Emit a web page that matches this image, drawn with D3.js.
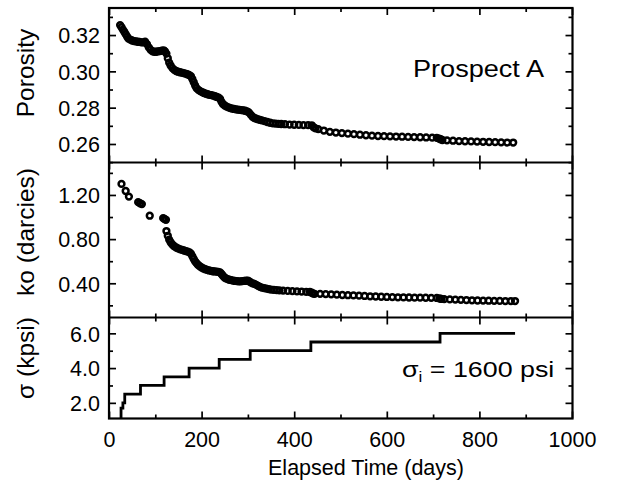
<!DOCTYPE html>
<html><head><meta charset="utf-8">
<script src="https://cdn.jsdelivr.net/npm/d3@7"></script>
<style>
body{margin:0;background:#fff}
svg text{font-family:"Liberation Sans",Arial,Helvetica,sans-serif;fill:#000}
</style>
</head><body>
<svg id="chart" width="617" height="501"></svg>
<script>
// ---------------- DATA ----------------
const porosityDays = [24,27,30,33,36,39,42,46,50,54,58,62,66,70,74,78,82,86,90,94,98,102,106,110,114,118,121,124,127,130,133,137,141,145,149,153,157,161,165,169,173,177,180,183,186,189,193,197,201,205,209,213,217,221,225,229,233,237,240,243,246,250,254,258,262,266,270,274,278,282,286,290,294,298,302,306,310,314,318,322,326,330,336,342,348,354,360,366,372,380,390,400,410,420,430,438,442,446,452,464,477,490,503,516,529,542,555,568,581,594,607,620,633,646,659,672,685,698,708,713,716,720,730,743,756,769,782,795,808,821,834,847,860,873];
const porosityValues = [.3255,.3243,.3230,.3218,.3205,.3192,.3180,.3175,.3170,.3167,.3165,.3163,.3162,.3160,.3160,.3163,.3150,.3132,.3118,.3110,.3108,.3108,.3110,.3112,.3114,.3116,.3110,.3098,.3072,.3048,.3032,.3018,.3008,.3002,.2998,.2995,.2993,.2990,.2988,.2984,.2980,.2973,.2958,.2940,.2922,.2908,.2898,.2891,.2886,.2881,.2877,.2874,.2871,.2869,.2866,.2863,.2859,.2855,.2848,.2832,.2820,.2812,.2806,.2802,.2798,.2795,.2793,.2791,.2789,.2788,.2787,.2785,.2783,.2780,.2774,.2762,.2750,.2743,.2739,.2736,.2733,.2730,.2726,.2721,.2717,.2714,.2712,.2711,.2710,.2709,.2707,.2706,.2705,.2704,.2704,.2703,.2692,.2686,.2682,.2674,.2667,.2663,.2660,.2657,.2654,.2651,.2648,.2646,.2644,.2643,.2642,.2641,.2640,.2639,.2638,.2637,.2636,.2635,.2634,.2630,.2626,.2622,.2620,.2618,.2616,.2615,.2614,.2613,.2612,.2611,.2610,.2609,.2608,.2608];

const koDays = [27,36,43,63,67,71,88,117,120,123,124,127,130,133,136,139,142,146,150,154,158,162,166,170,174,177,180,183,186,189,192,196,200,204,208,212,216,220,224,228,232,236,240,243,246,249,252,256,260,264,268,272,276,280,284,288,292,296,300,303,306,310,314,318,322,326,330,335,340,345,350,356,362,368,376,386,396,406,416,426,434,438,441,444,456,468,480,492,504,516,528,540,552,564,576,588,600,612,624,636,648,660,672,684,696,708,714,718,724,736,748,760,772,784,796,808,820,832,844,856,868,877];
const koValues = [1.300,1.236,1.185,1.135,1.125,1.117,1.012,0.990,0.982,0.975,0.873,0.830,0.795,0.772,0.755,0.742,0.732,0.722,0.714,0.707,0.702,0.697,0.692,0.687,0.680,0.668,0.645,0.620,0.598,0.582,0.568,0.554,0.543,0.534,0.527,0.521,0.516,0.512,0.509,0.507,0.505,0.503,0.498,0.484,0.468,0.454,0.446,0.438,0.432,0.428,0.424,0.421,0.419,0.418,0.418,0.419,0.421,0.423,0.424,0.417,0.408,0.400,0.394,0.386,0.376,0.367,0.361,0.356,0.351,0.347,0.343,0.340,0.338,0.336,0.334,0.331,0.329,0.327,0.325,0.323,0.321,0.314,0.307,0.304,0.304,0.302,0.300,0.297,0.294,0.292,0.290,0.288,0.285,0.282,0.280,0.278,0.276,0.275,0.273,0.272,0.271,0.270,0.270,0.269,0.268,0.267,0.262,0.258,0.256,0.254,0.252,0.250,0.248,0.246,0.244,0.243,0.242,0.241,0.240,0.239,0.239,0.239];

const stressDays = [26,26,30,34,68,119,173,238,305,436,715,877];
const stressValues = [1.1,1.7,2.0,2.5,3.0,3.5,4.0,4.5,5.0,5.5,6.0,6.0];

const xTickValues = [0,200,400,600,800,1000];
const xMinorTicks = [100,300,500,700,900];
const porosityTicks = [0.26,0.28,0.30,0.32];
const porosityMinor = [0.25,0.27,0.29,0.31,0.33];
const koTicks = [0.40,0.80,1.20];
const koMinor = [0.20,0.60,1.00,1.40];
const stressTicks = [2.0,4.0,6.0];
const stressMinor = [3.0,5.0];

const porosityLabel = "Porosity";
const koLabel = "ko (darcies)";
const stressLabel = "\u03C3 (kpsi)";
const xLabel = "Elapsed Time (days)";
const prospectLabel = "Prospect A";

// ---------------- LAYOUT ----------------
const L = 109, R = 572.5;
const panels = [
  {top: 8, bottom: 162.5},
  {top: 162.5, bottom: 317.5},
  {top: 317.5, bottom: 418.5}
];
const svg = d3.select("#chart");
const x = d3.scaleLinear().domain([0,1000]).range([L, 572]);
const yP = d3.scaleLinear().domain([0.2498,0.3349]).range([panels[0].bottom, panels[0].top]);
const yK = d3.scaleLinear().domain([0.09,1.494]).range([panels[1].bottom, panels[1].top]);
const yS = d3.scaleLinear().domain([1.10,6.91]).range([panels[2].bottom, panels[2].top]);

const majorLen = 7, minorLen = 4;

function ticksFor(panel, y, major, minor){
  const g = svg.append("g");
  [{vals: major, len: majorLen}, {vals: minor, len: minorLen}].forEach(d => {
    g.append("g").attr("transform",`translate(${L},0)`).call(d3.axisLeft(y).tickValues(d.vals).tickSize(-d.len).tickFormat(""));
    g.append("g").attr("transform",`translate(${R},0)`).call(d3.axisRight(y).tickValues(d.vals).tickSize(-d.len).tickFormat(""));
  });
  [{vals: xTickValues, len: majorLen},{vals: xMinorTicks, len: minorLen}].forEach(d => {
    g.append("g").attr("transform",`translate(0,${panel.bottom})`).call(d3.axisBottom(x).tickValues(d.vals).tickSize(-d.len).tickFormat(""));
    g.append("g").attr("transform",`translate(0,${panel.top})`).call(d3.axisTop(x).tickValues(d.vals).tickSize(-d.len).tickFormat(""));
  });
  g.selectAll(".domain").remove();
  g.selectAll(".tick line").attr("stroke","#000").attr("stroke-width",1.7);
  return g;
}
ticksFor(panels[0], yP, porosityTicks, porosityMinor);
ticksFor(panels[1], yK, koTicks, koMinor);
ticksFor(panels[2], yS, stressTicks, stressMinor);

const tickFont = 21.5;
// y tick labels
function yLabels(y, vals, fmt){
  const g = svg.append("g").attr("transform",`translate(${L},0)`)
    .call(d3.axisLeft(y).tickValues(vals).tickSize(0).tickPadding(9).tickFormat(d3.format(fmt)));
  g.select(".domain").remove();
  g.selectAll("text").attr("font-size",tickFont).attr("font-family",null).attr("dy","0.36em");
}
yLabels(yP, porosityTicks, ".2f");
yLabels(yK, koTicks, ".2f");
yLabels(yS, stressTicks, ".1f");

// x tick labels
const gx = svg.append("g").attr("transform",`translate(0,${panels[2].bottom})`)
  .call(d3.axisBottom(x).tickValues(xTickValues).tickSize(0).tickPadding(13).tickFormat(d3.format("d")));
gx.select(".domain").remove();
gx.selectAll("text").attr("font-size",tickFont).attr("font-family",null);

// frame
svg.append("rect").attr("x",L).attr("y",panels[0].top).attr("width",R-L).attr("height",panels[2].bottom-panels[0].top)
  .attr("fill","none").attr("stroke","#000").attr("stroke-width",2.2);
[panels[0].bottom, panels[1].bottom].forEach(yy => {
  svg.append("line").attr("x1",L).attr("x2",R).attr("y1",yy).attr("y2",yy).attr("stroke","#000").attr("stroke-width",2.2);
});

// porosity markers
svg.append("g").selectAll("circle").data(porosityDays.map((d,i)=>[d,porosityValues[i]])).join("circle")
  .attr("cx",d=>x(d[0])).attr("cy",d=>yP(d[1])).attr("r",2.9)
  .attr("fill","none").attr("stroke","#000").attr("stroke-width",2.5);

// ko markers
svg.append("g").selectAll("circle").data(koDays.map((d,i)=>[d,koValues[i]])).join("circle")
  .attr("cx",d=>x(d[0])).attr("cy",d=>yK(d[1])).attr("r",2.9)
  .attr("fill","none").attr("stroke","#000").attr("stroke-width",2.5);

// stress step line
const line = d3.line().x(d=>x(d[0])).y(d=>yS(d[1])).curve(d3.curveStepAfter);
svg.append("path").datum(stressDays.map((d,i)=>[d,stressValues[i]]))
  .attr("d",line).attr("fill","none").attr("stroke","#000").attr("stroke-width",2.8);

// axis titles
function yTitle(txt, cy){
  svg.append("text").attr("transform",`translate(34,${cy}) rotate(-90)`)
    .attr("text-anchor","middle").attr("font-size",24.5).text(txt);
}
yTitle(porosityLabel, 73);
yTitle(koLabel, 232);
yTitle(stressLabel, 358);

svg.append("text").attr("x",366).attr("y",475).attr("text-anchor","middle").attr("font-size",21.5).text(xLabel);

svg.append("text").attr("x",413).attr("y",77).attr("font-size",23)
  .attr("textLength",131).attr("lengthAdjust","spacingAndGlyphs").text(prospectLabel);

const ann = svg.append("text").attr("transform","translate(402,377) scale(1.22,1)").attr("font-size",22);
ann.append("tspan").text("\u03C3");
ann.append("tspan").attr("font-size",14).attr("dy",5).text("i");
ann.append("tspan").attr("dy",-5).text(" = 1600 psi");
</script>
</body></html>
